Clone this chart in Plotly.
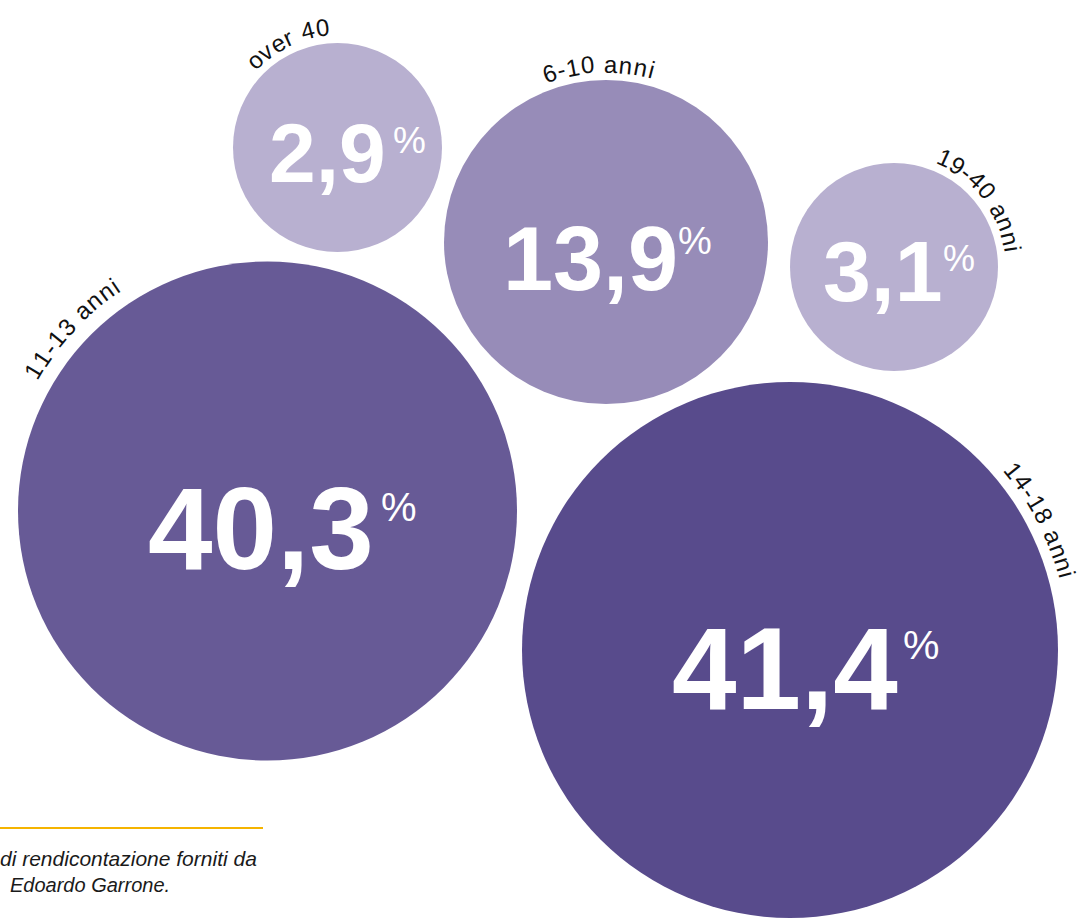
import math
import plotly.graph_objects as go

# ---------------- data ----------------
categories = ["over 40", "6-10 anni", "19-40 anni", "11-13 anni", "14-18 anni"]
values = [2.9, 13.9, 3.1, 40.3, 41.4]
value_labels = ["2,9", "13,9", "3,1", "40,3", "41,4"]
footer_lines = ["di rendicontazione forniti da", "Edoardo Garrone."]

# ---------------- layout / style (pixel space) ----------------
colors = ["#b8b0d0", "#978cb8", "#b8b0d0", "#675a96", "#584b8c"]
centers_x = [337.5, 606, 894, 267.5, 790]
centers_y = [147.5, 242, 267, 511, 650]
radii = [104.5, 162, 104, 249.5, 268]
label_angle = [-25.5, -2.6, 52, -47.0, 62.6]
label_gap = [16, 16, 16, 23, 19]
num_size = [84, 90, 86, 116, 116]
num_offset = [(-10, 5.5), (-16, 17), (-11, 4), (-7, 18), (-5, 19)]
pct_offset = [(71.5, -7.5), (89, -1), (65, -8.5), (131.5, -4), (131, -5)]
pct_size = [37, 38, 36, 40, 41]
LABEL_SIZE = 24
TRACK = 1.6
W, H = 1081, 918
FONT = "Liberation Sans, Arial, Helvetica, sans-serif"

char_w = {"0": 556, "1": 556, "2": 556, "3": 556, "4": 556, "5": 556, "6": 556,
          "7": 556, "8": 556, "9": 556, " ": 278, "-": 333, "a": 556, "n": 556,
          "i": 222, "o": 556, "v": 500, "e": 556, "r": 333}

fig = go.Figure()
fig.add_trace(go.Scatter(
    x=centers_x, y=centers_y, mode="markers",
    marker=dict(size=[2 * r for r in radii], sizemode="diameter",
                color=colors, opacity=1, line=dict(width=0)),
    text=[f"{c}: {v}%" for c, v in zip(categories, values)],
    hoverinfo="text", showlegend=False, cliponaxis=False,
))

annotations = []
for i, cat in enumerate(categories):
    cx, cy, r = centers_x[i], centers_y[i], radii[i]
    # big number
    annotations.append(dict(
        x=cx + num_offset[i][0], y=cy + num_offset[i][1], xref="x", yref="y",
        text=f"<b>{value_labels[i]}</b>", showarrow=False,
        xanchor="center", yanchor="middle",
        font=dict(family=FONT, size=num_size[i], color="white")))
    annotations.append(dict(
        x=cx + pct_offset[i][0], y=cy + pct_offset[i][1], xref="x", yref="y",
        text="%", showarrow=False, xanchor="center", yanchor="middle",
        font=dict(family=FONT, size=pct_size[i], color="white")))
    # curved label, one glyph at a time along the arc
    R = r + label_gap[i]
    widths = [char_w.get(ch, 556) * LABEL_SIZE / 1000 for ch in cat]
    total = sum(widths) + TRACK * (len(cat) - 1)
    s = 0.0
    for ch, w in zip(cat, widths):
        mid = s + w / 2 - total / 2
        th = math.radians(label_angle[i]) + mid / R
        s += w + TRACK
        if ch == " ":
            continue
        annotations.append(dict(
            x=cx + R * math.sin(th), y=cy - R * math.cos(th), xref="x", yref="y",
            text=ch, showarrow=False, xanchor="center", yanchor="middle",
            textangle=math.degrees(th), borderpad=0,
            font=dict(family=FONT, size=LABEL_SIZE, color="#111111")))

# footer note
annotations.append(dict(
    x=259, y=858, xref="x", yref="y", text=f"<i>{footer_lines[0]}</i>",
    showarrow=False, xanchor="right", yanchor="middle",
    font=dict(family=FONT, size=21, color="#1a1a1a")))
annotations.append(dict(
    x=7.5, y=885, xref="x", yref="y", text=f"<i>{footer_lines[1]}</i>",
    showarrow=False, xanchor="left", yanchor="middle",
    font=dict(family=FONT, size=20, color="#1a1a1a")))

fig.update_layout(
    width=W, height=H, margin=dict(l=0, r=0, t=0, b=0),
    paper_bgcolor="white", plot_bgcolor="white",
    xaxis=dict(range=[0, W], visible=False, fixedrange=True),
    yaxis=dict(range=[H, 0], visible=False, fixedrange=True),
    annotations=annotations,
    shapes=[dict(type="line", xref="x", yref="y", x0=0, x1=263, y0=828, y1=828,
                 line=dict(color="#f5b400", width=1.8))],
)

fig.write_html("out.html", config={"displayModeBar": False},
               post_script="document.body.style.margin='0';")
